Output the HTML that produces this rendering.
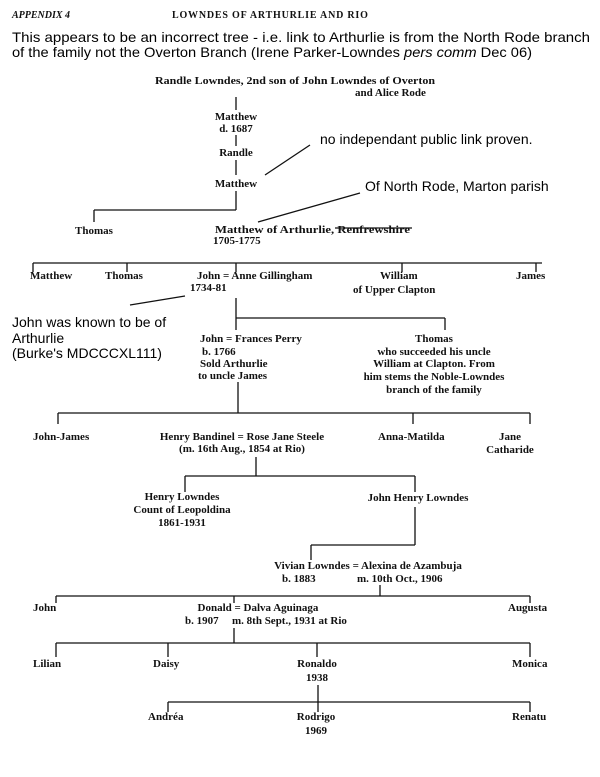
<!DOCTYPE html>
<html><head><meta charset="utf-8"><style>
html,body{margin:0;padding:0;background:#fff;}
svg{display:block;}
.s{font-family:"Liberation Serif",serif;font-size:11px;font-weight:bold;fill:#111;}
.a{font-family:"Liberation Sans",sans-serif;font-size:14px;fill:#000;}
</style></head><body>
<svg width="600" height="777" viewBox="0 0 600 777" xmlns="http://www.w3.org/2000/svg">
<g stroke="#111" stroke-width="1.3" fill="none">
<path d="M236 97V110M236 135V146M236 160V175M236 191V210M94 210H236M94 210V222"/>
<path d="M265 175L310 145M258 222L360 193M335 228H412"/>
<path d="M33 263H542M33 263V272M127 263V272M236 263V272M402 263V272M536 263V272"/>
<path d="M130 305L185 296"/>
<path d="M236 298V330M236 318H445M445 318V330"/>
<path d="M238 382V413M58 413H530M58 413V424M413 413V424M530 413V424"/>
<path d="M256 457V476M185 476H415M185 476V492M415 476V492"/>
<path d="M415 507V545M311 545H415M311 545V560"/>
<path d="M380 585V596M56 596H530M56 596V603M234 596V603M530 596V603"/>
<path d="M234 628V643M56 643H530M56 643V657M168 643V657M317 643V657M530 643V657"/>
<path d="M318 685V702M168 702H530M168 702V712M318 702V712M530 702V712"/>
</g>
<text x="12" y="18" class="s" style="font-style:italic;font-size:10px">APPENDIX 4</text>
<text x="172" y="18" class="s" style="font-size:10px;letter-spacing:0.8px">LOWNDES OF ARTHURLIE AND RIO</text>
<text x="12" y="42" class="a" textLength="578" lengthAdjust="spacingAndGlyphs">This appears to be an incorrect tree - i.e. link to Arthurlie is from the North Rode branch</text>
<text x="12" y="57" class="a" textLength="520" lengthAdjust="spacingAndGlyphs">of the family not the Overton Branch (Irene Parker-Lowndes <tspan font-style="italic">pers comm</tspan> Dec 06)</text>
<text x="155" y="84" class="s" textLength="280" lengthAdjust="spacingAndGlyphs">Randle Lowndes, 2nd son of John Lowndes of Overton</text>
<text x="355" y="96" class="s">and Alice Rode</text>
<g class="s" text-anchor="middle">
<text x="236" y="120">Matthew</text><text x="236" y="132">d. 1687</text>
<text x="236" y="156">Randle</text><text x="236" y="187">Matthew</text>
</g>
<text x="320" y="144" class="a">no independant public link proven.</text>
<text x="365" y="191" class="a">Of North Rode, Marton parish</text>
<text x="75" y="234" class="s">Thomas</text>
<text x="215" y="233" class="s" textLength="195" lengthAdjust="spacingAndGlyphs">Matthew of Arthurlie, Renfrewshire</text>
<text x="213" y="244" class="s">1705-1775</text>
<text x="30" y="279" class="s">Matthew</text>
<text x="105" y="279" class="s">Thomas</text>
<text x="197" y="279" class="s">John = Anne Gillingham</text>
<text x="190" y="291" class="s">1734-81</text>
<text x="380" y="279" class="s">William</text>
<text x="353" y="293" class="s">of Upper Clapton</text>
<text x="516" y="279" class="s">James</text>
<text x="12" y="327" class="a">John was known to be of</text>
<text x="12" y="343" class="a">Arthurlie</text>
<text x="12" y="358" class="a">(Burke's MDCCCXL111)</text>
<text x="200" y="342" class="s">John = Frances Perry</text>
<text x="202" y="355" class="s">b. 1766</text>
<text x="200" y="367" class="s">Sold Arthurlie</text>
<text x="198" y="379" class="s">to uncle James</text>
<g class="s" text-anchor="middle">
<text x="434" y="342">Thomas</text>
<text x="434" y="355">who succeeded his uncle</text>
<text x="434" y="367">William at Clapton. From</text>
<text x="434" y="380">him stems the Noble-Lowndes</text>
<text x="434" y="393">branch of the family</text>
<text x="510" y="440">Jane</text><text x="510" y="453">Catharide</text>
<text x="242" y="440">Henry Bandinel = Rose Jane Steele</text>
<text x="242" y="452">(m. 16th Aug., 1854 at Rio)</text>
<text x="182" y="500">Henry Lowndes</text><text x="182" y="513">Count of Leopoldina</text><text x="182" y="526">1861-1931</text>
<text x="418" y="501">John Henry Lowndes</text>
<text x="368" y="569">Vivian Lowndes = Alexina de Azambuja</text>
<text x="258" y="611">Donald = Dalva Aguinaga</text>
<text x="317" y="667">Ronaldo</text><text x="317" y="681">1938</text>
<text x="316" y="720">Rodrigo</text><text x="316" y="734">1969</text>
</g>
<text x="33" y="440" class="s">John-James</text>
<text x="378" y="440" class="s">Anna-Matilda</text>
<text x="282" y="582" class="s">b. 1883</text>
<text x="357" y="582" class="s">m. 10th Oct., 1906</text>
<text x="33" y="611" class="s">John</text>
<text x="185" y="624" class="s">b. 1907</text>
<text x="232" y="624" class="s">m. 8th Sept., 1931 at Rio</text>
<text x="508" y="611" class="s">Augusta</text>
<text x="33" y="667" class="s">Lilian</text>
<text x="153" y="667" class="s">Daisy</text>
<text x="512" y="667" class="s">Monica</text>
<text x="148" y="720" class="s">Andréa</text>
<text x="512" y="720" class="s">Renatu</text>
</svg>
</body></html>
